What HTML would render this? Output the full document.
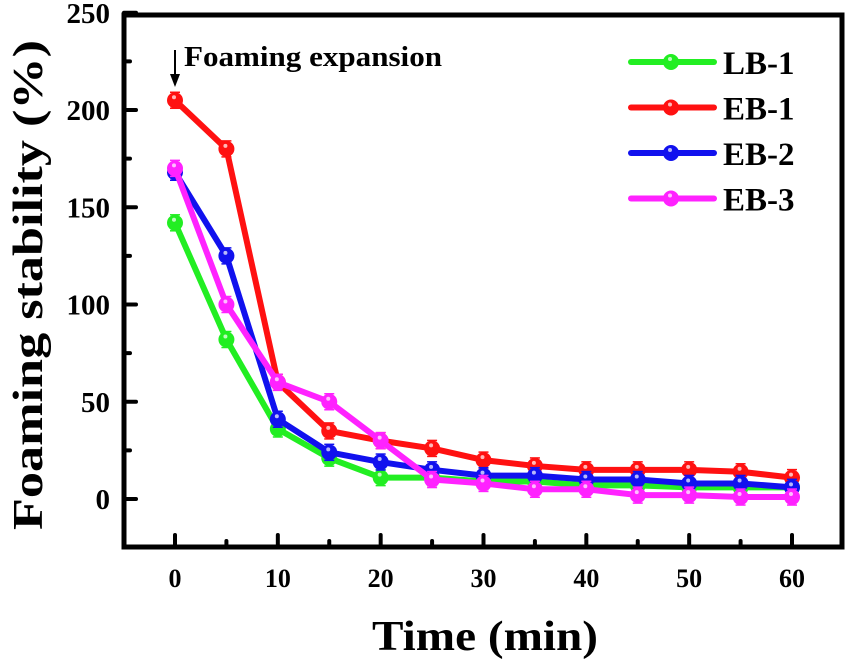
<!DOCTYPE html>
<html><head><meta charset="utf-8"><style>
body{margin:0;background:#fff;}
svg{display:block;font-family:"Liberation Serif",serif;font-weight:bold;}
</style></head><body>
<svg id="chart" width="850" height="668" viewBox="0 0 850 668" xmlns="http://www.w3.org/2000/svg">
<g id="series"></g>
<rect x="124" y="15" width="718" height="532" fill="none" stroke="#000" stroke-width="5"/>
<g id="ticks"></g>
<text x="372" y="650" font-size="42" textLength="226" lengthAdjust="spacingAndGlyphs">Time (min)</text>
<text transform="translate(42,530) rotate(-90)" font-size="42" textLength="490" lengthAdjust="spacingAndGlyphs">Foaming stability (%)</text>
<g>
<line x1="175" y1="50" x2="175" y2="76" stroke="#000" stroke-width="2"/>
<path d="M170,74 L180,74 L175,87 Z" fill="#000"/>
<text x="184" y="66" font-size="28" textLength="258" lengthAdjust="spacingAndGlyphs">Foaming expansion</text>
</g>
<g id="legend"></g>
</svg>
<script>
const xValues=[0,5,10,15,20,25,30,35,40,45,50,55,60];
const lb1=[142,82,36,21,11,11,9,9,7,7,6,6,6];
const eb1=[205,180,60,35,30,26,20,17,15,15,15,14,11];
const eb2=[168,125,41,24,19,15,12,12,10,10,8,8,6];
const eb3=[170,100,60,50,30,10,8,5,5,2,2,1,1];
const seriesNames=["LB-1","EB-1","EB-2","EB-3"];
const xTicks=[0,10,20,30,40,50,60];
const yTicks=[0,50,100,150,200,250];
const NS="http://www.w3.org/2000/svg";
const colors=["#22ee22","#ff1111","#1111ee","#ff22ff"];
const allSeries=[lb1,eb1,eb2,eb3];
function xs(v){return 175+v*(792-175)/60;}
function ys(v){return 499-v*(499-110)/200;}
function el(tag,attrs,parent){const e=document.createElementNS(NS,tag);for(const k in attrs)e.setAttribute(k,attrs[k]);parent.appendChild(e);return e;}
const tg=document.getElementById('ticks');
for(let v=0;v<=60;v+=5){
  const t=el('line',{x1:xs(v),x2:xs(v),y1:547,y2:v%10===0?535:541,stroke:'#000','stroke-width':4,'stroke-linecap':'round'},tg);
  
  
}
xTicks.forEach(v=>{
  const t=el('text',{x:xs(v),y:587,'font-size':26,'text-anchor':'middle'},tg);t.textContent=v;
  
  
});
for(let v=0;v<=250;v+=25){
  const t=el('line',{x1:124,x2:v%50===0?136:130,y1:ys(v),y2:ys(v),stroke:'#000','stroke-width':4,'stroke-linecap':'round'},tg);
  
  
}
yTicks.forEach(v=>{
  const t=el('text',{x:110,y:ys(v)+10,'font-size':29,'text-anchor':'end'},tg);t.textContent=v;
  
  
});
const sg=document.getElementById('series');
allSeries.forEach((data,i)=>{
  const g=el('g',{},sg);
  
  
  const pts=data.map((v,j)=>xs(xValues[j])+','+ys(v)).join(' ');
  el('polyline',{points:pts,fill:'none',stroke:colors[i],'stroke-width':6,'stroke-linejoin':'round'},g);
  data.forEach((v,j)=>{
    const x=xs(xValues[j]),y=ys(v);
    el('line',{x1:x,x2:x,y1:y-8,y2:y+8,stroke:colors[i],'stroke-width':1.5},g);
    el('line',{x1:x-5,x2:x+5,y1:y-8,y2:y-8,stroke:colors[i],'stroke-width':1.5},g);
    el('line',{x1:x-5,x2:x+5,y1:y+8,y2:y+8,stroke:colors[i],'stroke-width':1.5},g);
    const c=el('circle',{cx:x,cy:y,r:8,fill:colors[i]},g);
    
    
    el('circle',{cx:x-1,cy:y-3,r:2,fill:'#fff',opacity:0.7},g);
  });
});
const lg=document.getElementById('legend');
seriesNames.forEach((n,i)=>{
  const y=62+i*45.5;
  const g=el('g',{},lg);
  
  
  el('line',{x1:631,x2:714,y1:y,y2:y,stroke:colors[i],'stroke-width':6,'stroke-linecap':'round'},g);
  el('circle',{cx:671,cy:y,r:8,fill:colors[i]},g);
  el('circle',{cx:670,cy:y-3,r:2,fill:'#fff',opacity:0.7},g);
  const t=el('text',{x:723,y:y+12,'font-size':33},g);t.textContent=n;
});
</script>
</body></html>
